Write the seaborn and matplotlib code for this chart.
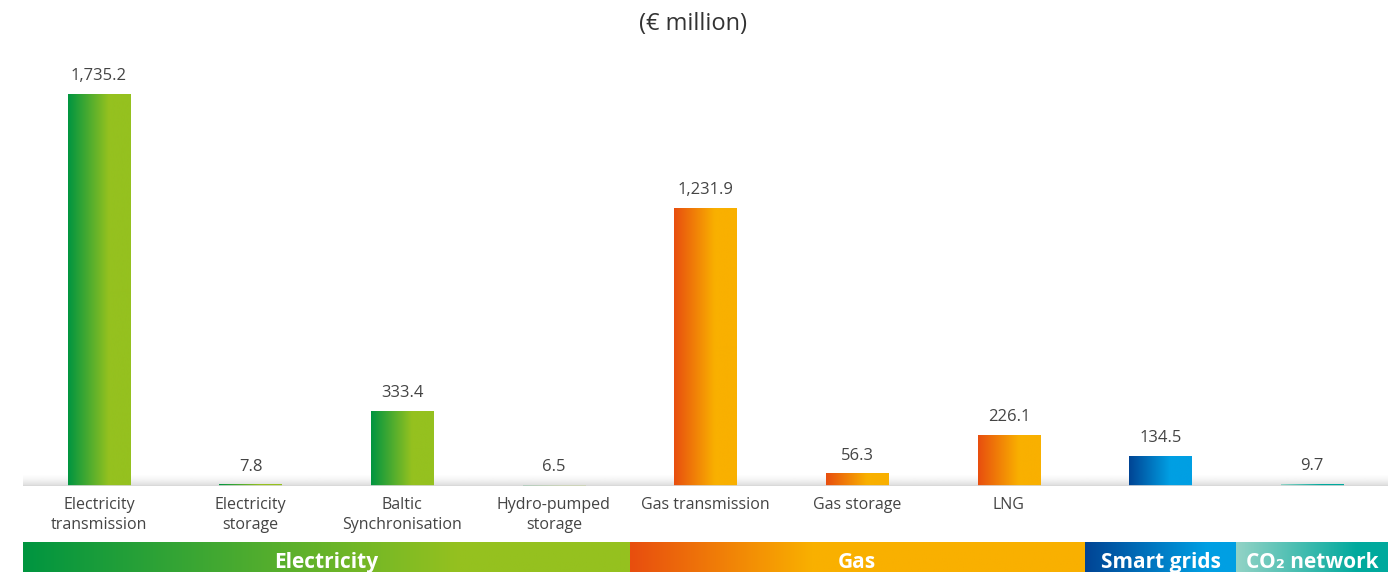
import numpy as np
import pandas as pd
import seaborn as sns
import matplotlib.pyplot as plt
from matplotlib.colors import LinearSegmentedColormap

# data
categories = ['Electricity\ntransmission', 'Electricity\nstorage', 'Baltic\nSynchronisation',
              'Hydro-pumped\nstorage', 'Gas transmission', 'Gas storage', 'LNG', '', ' ']
values = [1735.2, 7.8, 333.4, 6.5, 1231.9, 56.3, 226.1, 134.5, 9.7]
value_labels = ['1,735.2', '7.8', '333.4', '6.5', '1,231.9', '56.3', '226.1', '134.5', '9.7']
sectors = ['Electricity', 'Electricity', 'Electricity', 'Electricity', 'Gas', 'Gas', 'Gas',
           'Smart grids', 'CO₂ network']
group_names = ['Electricity', 'Gas', 'Smart grids', 'CO₂ network']
group_sizes = [4, 3, 1, 1]

palette = {
    'Electricity': ('#009540', '#95c11f'),
    'Gas': ('#e84e0f', '#f9b000'),
    'Smart grids': ('#004494', '#009fe3'),
    'CO₂ network': ('#93d3c6', '#00a99d'),
}

df = pd.DataFrame({'cat': categories, 'val': values, 'sector': sectors})

sns.set_style('white')
plt.rcParams['font.family'] = ['Open Sans', 'DejaVu Sans']

fig = plt.figure(figsize=(13.99, 5.72), dpi=100)
ax = fig.add_axes([23 / 1399, 1 - 486 / 572, 1365 / 1399, 426 / 572])

sns.barplot(data=df, x='cat', y='val', ax=ax, color='white', width=0.41,
            linewidth=0, order=categories)
ax.set_xlim(-0.5, 8.5)
ax.set_ylim(0, 1886)


def grad_img(c1, c2, stop=0.6, n=256):
    cmap = LinearSegmentedColormap.from_list('g', [(0, c1), (stop, c2), (1, c2)])
    return cmap(np.linspace(0, 1, n))[None, :, :]


# shadow above baseline
shade = np.ones((50, 2, 4))
alpha = np.linspace(0.5, 0, 50) ** 1.5
shade[..., :3] = 0.6
shade[..., 3] = alpha[:, None]
ax.imshow(shade, extent=(-0.5, 8.5, 0, 50), origin='lower', aspect='auto', zorder=0.5)

# gradient fill on bars
for patch, sec in zip(ax.patches, sectors):
    x0, y0 = patch.get_x(), patch.get_y()
    w, h = patch.get_width(), patch.get_height()
    c1, c2 = palette[sec]
    im = ax.imshow(grad_img(c1, c2, 0.65), extent=(x0, x0 + w, y0, y0 + h),
                   aspect='auto', zorder=3)
    im.set_clip_path(patch)

for i, (v, lab) in enumerate(zip(values, value_labels)):
    ax.annotate(lab, (i, v), xytext=(0, 7), textcoords='offset points',
                ha='center', va='bottom', fontsize=12, color='#444444')

ax.axhline(0, color='#d9d9d9', lw=1.2, zorder=4)
for s in ax.spines.values():
    s.set_visible(False)
ax.set_yticks([])
ax.set_xlabel('')
ax.set_ylabel('')
ax.tick_params(axis='x', length=0, pad=8, labelsize=11.5, labelcolor='#444444')
plt.setp(ax.get_xticklabels(), linespacing=1.35)

fig.text(693 / 1399, 1 - 24 / 572, '(€ million)', ha='center', va='center',
         fontsize=17, color='#333333')

# sector band
bax = fig.add_axes([23 / 1399, 1 - 580 / 572, 1365 / 1399, 38 / 572])
bax.set_xlim(-0.5, 8.5)
bax.set_ylim(0, 1)
bax.axis('off')
start = -0.5
stops = {'Electricity': 0.72, 'Gas': 0.4, 'Smart grids': 0.8, 'CO₂ network': 0.8}
for name, size in zip(group_names, group_sizes):
    c1, c2 = palette[name]
    bax.imshow(grad_img(c1, c2, stops[name]), extent=(start, start + size, 0, 1),
               aspect='auto')
    bax.text(start + size / 2, 0.45, name, ha='center', va='center', color='white',
             fontsize=15, fontweight='bold')
    start += size

fig.savefig('out.png', dpi=100)
